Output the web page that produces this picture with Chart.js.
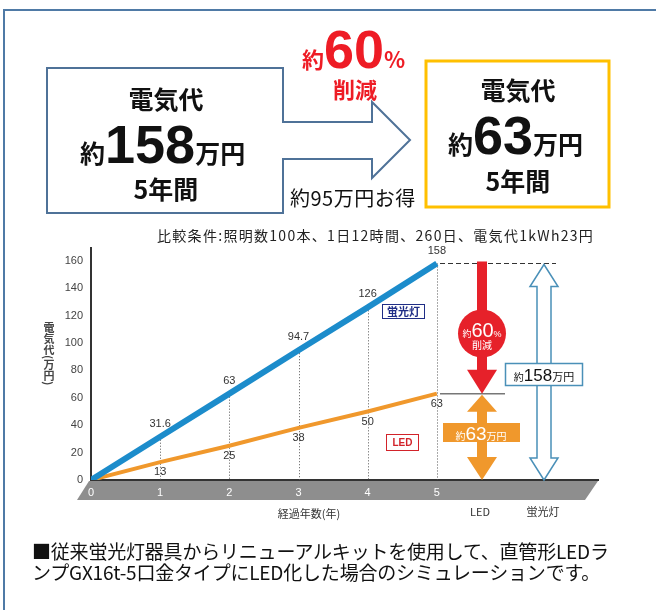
<!DOCTYPE html>
<html lang="ja">
<head>
<meta charset="utf-8">
<script src="https://cdn.jsdelivr.net/npm/chart.js@4.4.1/dist/chart.umd.min.js"></script>
<style>
  html, body { margin: 0; padding: 0; background: #fff; }
  body { width: 656px; height: 610px; overflow: hidden; position: relative;
         font-family: "Noto Sans CJK JP", "Liberation Sans", sans-serif; color: #111; }
  #chart { position: absolute; left: 0; top: 0; }
  .abs { position: absolute; white-space: nowrap; line-height: 1; }
  .frame { left: 3px; top: 9px; width: 800px; height: 800px;
           border-top: 2px solid #4f7aa6; border-left: 2px solid #4f7aa6; }
  .c { transform: translate(-50%, -50%); }
  .b { font-weight: bold; }
  .num { font-family: "Liberation Sans", Arial, sans-serif; font-weight: bold; }
  .red { color: #ee1c25; }
  .ytitle { left: 43px; top: 322px; font-size: 11px; font-weight: bold; color: #444;
            writing-mode: vertical-rl; }
  .note { left: 32px; top: 540px; font-size: 19px; line-height: 21px; color: #111; letter-spacing: -0.2px; }
</style>
</head>
<body>
<canvas id="chart" width="656" height="610"></canvas>

<div class="abs frame"></div>
<svg class="abs" style="left:0;top:0" width="656" height="230">
  <path d="M47,68 H283 V122 H372 V102 L410,140 L372,178 V159 H283 V213 H47 Z"
        fill="none" stroke="#4f7298" stroke-width="2"/>
  <rect x="426" y="61" width="183" height="146" fill="none" stroke="#ffc000" stroke-width="3"/>
</svg>

<div class="abs c b" style="left:166px;top:98px;font-size:25px">電気代</div>
<div class="abs b" style="left:80px;top:117px;font-size:25px">約<span class="num" style="font-size:54px">158</span>万円</div>
<div class="abs c b" style="left:166px;top:188px;font-size:25px">5年間</div>

<div class="abs b red" style="left:302px;top:22px;font-size:22px">約<span class="num" style="font-size:54px">60</span>%</div>
<div class="abs c b red" style="left:355px;top:88px;font-size:22px">削減</div>
<div class="abs" style="left:290px;top:188px;font-size:20px;letter-spacing:0.5px">約95万円お得</div>

<div class="abs c b" style="left:518px;top:89px;font-size:25px">電気代</div>
<div class="abs b" style="left:448px;top:108px;font-size:25px">約<span class="num" style="font-size:54px">63</span>万円</div>
<div class="abs c b" style="left:518px;top:180px;font-size:25px">5年間</div>

<div class="abs" style="left:157px;top:228px;font-size:14px;letter-spacing:1.3px;color:#222">比較条件:照明数100本、1日12時間、260日、電気代1kWh23円</div>

<div class="abs ytitle">電気代(万円)</div>

<div class="abs note">■従来蛍光灯器具からリニューアルキットを使用して、直管形LEDラ<br>ンプGX16t-5口金タイプにLED化した場合のシミュレーションです。</div>

<script>
const years = [0, 1, 2, 3, 4, 5];
const fluorescentCost = [0, 31.6, 63, 94.7, 126, 158];
const ledCost = [0, 13, 25, 38, 50, 63];
const yTicks = [0, 20, 40, 60, 80, 100, 120, 140, 160];

const blue = "#1c8ccb";
const orange = "#f0982c";
const labelFont = "11px 'Liberation Sans', Arial, sans-serif";
const jpFont = "'Noto Sans CJK JP', sans-serif";

// draw text pieces of different sizes on one baseline, centred on cx
function drawMixed(ctx, parts, cx, baseline, color) {
    ctx.save();
    ctx.fillStyle = color;
    ctx.textAlign = "left";
    ctx.textBaseline = "alphabetic";
    let total = 0;
    parts.forEach(p => { ctx.font = p.font; total += ctx.measureText(p.t).width; });
    let x = cx - total / 2;
    parts.forEach(p => {
        ctx.font = p.font;
        ctx.fillText(p.t, x, baseline);
        x += ctx.measureText(p.t).width;
    });
    ctx.restore();
}

const decoPlugin = {
    id: "deco",
    beforeDraw(chart) {
        const ctx = chart.ctx;
        const area = chart.chartArea;
        ctx.save();
        ctx.fillStyle = "#fff";
        ctx.fillRect(0, 0, chart.width, chart.height);
        // grey floor under the x axis
        ctx.fillStyle = "#8e8e8e";
        ctx.beginPath();
        ctx.moveTo(area.left - 2, area.bottom + 1);
        ctx.lineTo(area.right, area.bottom + 1);
        ctx.lineTo(area.right - 13, area.bottom + 20);
        ctx.lineTo(area.left - 14, area.bottom + 20);
        ctx.closePath();
        ctx.fill();
        ctx.restore();
    },
    beforeDatasetsDraw(chart) {
        const ctx = chart.ctx;
        const xs = chart.scales.x, ys = chart.scales.y;
        ctx.save();
        ctx.strokeStyle = "#555";
        ctx.lineWidth = 1;
        ctx.setLineDash([1, 2]);
        for (let i = 1; i < years.length; i++) {
            const px = Math.round(xs.getPixelForValue(years[i])) + 0.5;
            ctx.beginPath();
            ctx.moveTo(px, ys.getPixelForValue(fluorescentCost[i]));
            ctx.lineTo(px, ys.getPixelForValue(0));
            ctx.stroke();
        }
        ctx.restore();
    },
    afterDatasetsDraw(chart) {
        const ctx = chart.ctx;
        const xs = chart.scales.x, ys = chart.scales.y;
        const area = chart.chartArea;

        // value labels
        ctx.save();
        ctx.font = labelFont;
        ctx.fillStyle = "#333";
        ctx.textAlign = "center";
        ctx.textBaseline = "middle";
        chart.data.datasets.forEach(ds => {
            ds.data.forEach((pt, i) => {
                if (i === 0) return;
                ctx.fillText(String(pt.y), xs.getPixelForValue(pt.x) + (ds.labelDx || 0),
                             ys.getPixelForValue(pt.y) + ds.labelDy);
            });
        });
        ctx.restore();

        // in-chart legend boxes
        ctx.save();
        ctx.lineWidth = 1;
        ctx.strokeStyle = "#1f2d86";
        ctx.strokeRect(382.5, 304.5, 42, 14);
        ctx.fillStyle = "#1f2d86";
        ctx.font = "bold 11px " + jpFont;
        ctx.textAlign = "center";
        ctx.textBaseline = "middle";
        ctx.fillText("蛍光灯", 403.5, 312);
        ctx.strokeStyle = "#d2232a";
        ctx.strokeRect(386.5, 434.5, 32, 16);
        ctx.fillStyle = "#d2232a";
        ctx.font = "bold 10px 'Liberation Sans', Arial, sans-serif";
        ctx.fillText("LED", 402.5, 443);
        ctx.restore();

        const yTop = ys.getPixelForValue(fluorescentCost[fluorescentCost.length - 1]);
        const yLed = ys.getPixelForValue(ledCost[ledCost.length - 1]);
        const yZero = ys.getPixelForValue(0);

        // reference lines at the 5-year totals
        ctx.save();
        ctx.strokeStyle = "#333";
        ctx.lineWidth = 1;
        ctx.setLineDash([5, 3]);
        ctx.beginPath();
        ctx.moveTo(440, Math.round(yTop) + 0.5);
        ctx.lineTo(556, Math.round(yTop) + 0.5);
        ctx.stroke();
        ctx.setLineDash([]);
        ctx.strokeStyle = "#777";
        ctx.lineWidth = 1.5;
        ctx.beginPath();
        ctx.moveTo(440, yLed);
        ctx.lineTo(505, yLed);
        ctx.stroke();
        ctx.restore();

        // red reduction arrow
        const cx = 482;
        ctx.save();
        ctx.fillStyle = "#e6212a";
        ctx.fillRect(cx - 5, yTop - 2, 10, yLed - yTop - 20);
        ctx.beginPath();
        ctx.arc(cx, yTop + 70, 24, 0, Math.PI * 2);
        ctx.fill();
        ctx.beginPath();
        ctx.moveTo(cx - 15, yLed - 24);
        ctx.lineTo(cx + 15, yLed - 24);
        ctx.lineTo(cx, yLed);
        ctx.closePath();
        ctx.fill();
        ctx.restore();
        drawMixed(ctx, [
            { t: "約", font: "9px " + jpFont },
            { t: "60", font: "20px 'Liberation Sans', Arial, sans-serif" },
            { t: "%", font: "9px 'Liberation Sans', Arial, sans-serif" }
        ], cx, yTop + 74, "#fff");
        drawMixed(ctx, [{ t: "削減", font: "10px " + jpFont }], cx, yTop + 86, "#fff");

        // orange LED double arrow
        ctx.save();
        ctx.fillStyle = orange;
        ctx.beginPath();
        ctx.moveTo(cx, yLed + 1);
        ctx.lineTo(cx + 15, yLed + 18);
        ctx.lineTo(cx + 5, yLed + 18);
        ctx.lineTo(cx + 5, yZero - 23);
        ctx.lineTo(cx + 15, yZero - 23);
        ctx.lineTo(cx, yZero);
        ctx.lineTo(cx - 15, yZero - 23);
        ctx.lineTo(cx - 5, yZero - 23);
        ctx.lineTo(cx - 5, yLed + 18);
        ctx.lineTo(cx - 15, yLed + 18);
        ctx.closePath();
        ctx.fill();
        ctx.fillRect(443, 423, 77, 19);
        ctx.restore();
        drawMixed(ctx, [
            { t: "約", font: "10px " + jpFont },
            { t: "63", font: "19px 'Liberation Sans', Arial, sans-serif" },
            { t: "万円", font: "10px " + jpFont }
        ], 481, 440, "#fff");

        // blue outlined double arrow
        const bx = 544;
        ctx.save();
        ctx.fillStyle = "#fff";
        ctx.strokeStyle = "#4a90b8";
        ctx.lineWidth = 1.5;
        ctx.beginPath();
        ctx.moveTo(bx, yTop + 1);
        ctx.lineTo(bx + 14, yTop + 23);
        ctx.lineTo(bx + 7, yTop + 23);
        ctx.lineTo(bx + 7, yZero - 22);
        ctx.lineTo(bx + 14, yZero - 22);
        ctx.lineTo(bx, yZero);
        ctx.lineTo(bx - 14, yZero - 22);
        ctx.lineTo(bx - 7, yZero - 22);
        ctx.lineTo(bx - 7, yTop + 23);
        ctx.lineTo(bx - 14, yTop + 23);
        ctx.closePath();
        ctx.fill();
        ctx.stroke();
        ctx.fillRect(505.5, 363.5, 77, 22);
        ctx.strokeRect(505.5, 363.5, 77, 22);
        ctx.restore();
        drawMixed(ctx, [
            { t: "約", font: "10px " + jpFont },
            { t: "158", font: "17px 'Liberation Sans', Arial, sans-serif" },
            { t: "万円", font: "11px " + jpFont }
        ], 544, 381, "#111");

        // labels under the floor
        ctx.save();
        ctx.fillStyle = "#333";
        ctx.font = "11px " + jpFont;
        ctx.textAlign = "center";
        ctx.textBaseline = "middle";
        ctx.fillText("経過年数(年)", 309, area.bottom + 34);
        ctx.fillText("LED", 480, area.bottom + 32);
        ctx.fillText("蛍光灯", 543, area.bottom + 32);
        ctx.restore();
    }
};

new Chart(document.getElementById("chart"), {
    type: "line",
    data: {
        datasets: [{
            label: "蛍光灯",
            data: years.map((x, i) => ({ x: x, y: fluorescentCost[i] })),
            borderColor: blue,
            borderWidth: 6,
            labelDy: -13
        }, {
            label: "LED",
            data: years.map((x, i) => ({ x: x, y: ledCost[i] })),
            borderColor: orange,
            borderWidth: 4,
            labelDy: 10
        }]
    },
    options: {
        responsive: false,
        devicePixelRatio: 1,
        animation: false,
        layout: { padding: { top: 248, right: 58, bottom: 110, left: 0 } },
        elements: { point: { radius: 0 }, line: { tension: 0 } },
        plugins: { legend: { display: false }, tooltip: { enabled: false } },
        scales: {
            x: {
                type: "linear",
                min: 0,
                max: 7.33,
                afterBuildTicks: s => { s.ticks = years.map(v => ({ value: v })); },
                afterFit: s => { s.height = 20; },
                grid: { display: false, drawTicks: false },
                border: { display: true, color: "#333", width: 2 },
                ticks: { color: "#fff", font: { size: 11, family: "'Liberation Sans', Arial" }, padding: 6 }
            },
            y: {
                min: 0,
                max: 169.3,
                afterBuildTicks: s => { s.ticks = yTicks.map(v => ({ value: v })); },
                afterFit: s => { s.width = 91; },
                grid: { display: false, drawTicks: false },
                border: { display: true, color: "#333", width: 2 },
                ticks: { color: "#444", font: { size: 11, family: "'Liberation Sans', Arial" }, padding: 8 }
            }
        }
    },
    plugins: [decoPlugin]
});
</script>
</body>
</html>
